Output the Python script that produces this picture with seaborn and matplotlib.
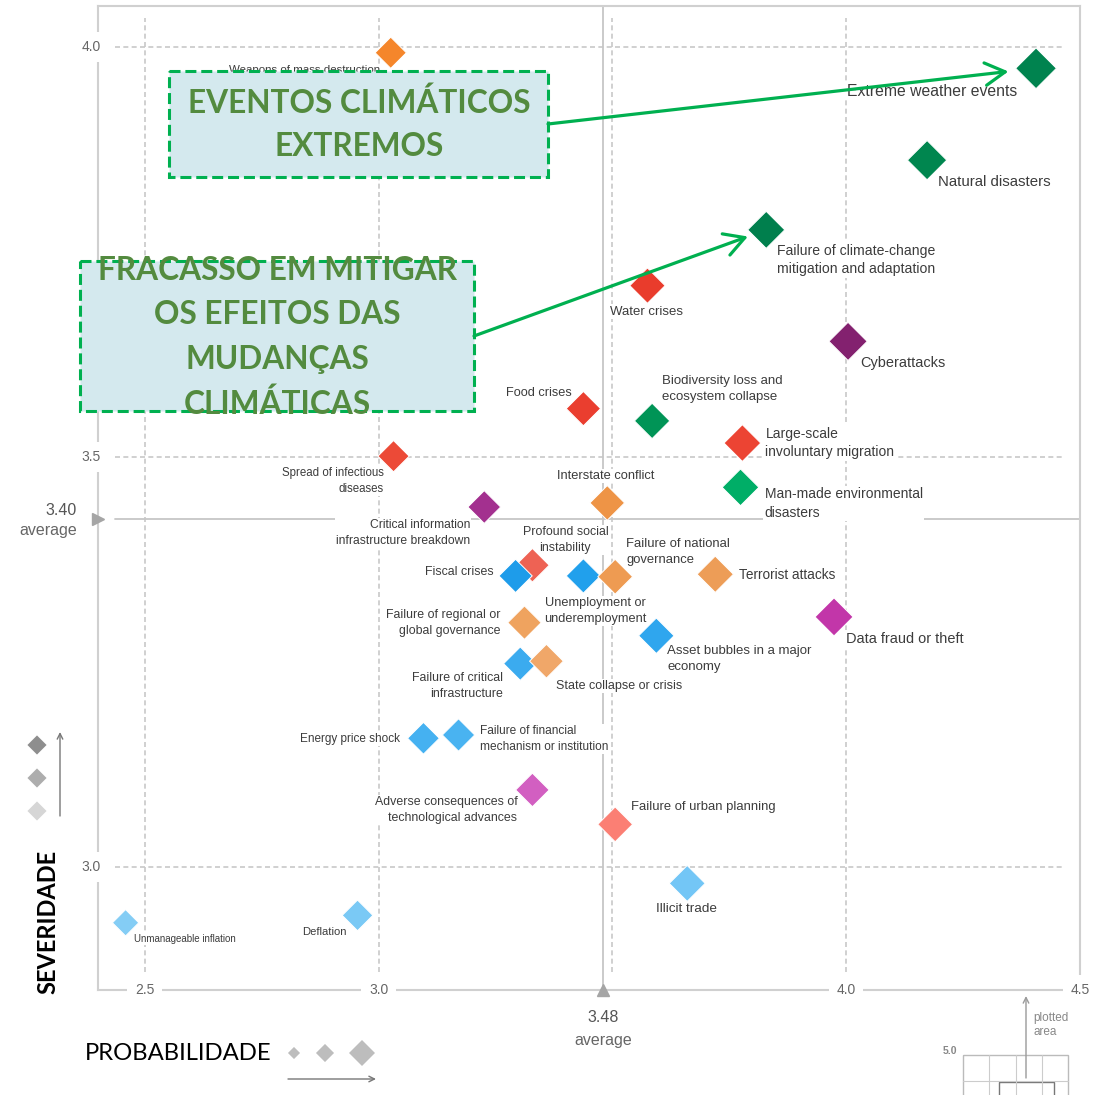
import numpy as np
import pandas as pd
import matplotlib
matplotlib.use("Agg")
import matplotlib.pyplot as plt
import seaborn as sns
from matplotlib.patches import Rectangle

# ---------------- data ----------------
risks = [
    "Weapons of mass destruction",
    "Extreme weather events",
    "Natural disasters",
    "Failure of climate-change\nmitigation and adaptation",
    "Water crises",
    "Cyberattacks",
    "Food crises",
    "Biodiversity loss and\necosystem collapse",
    "Large-scale\ninvoluntary migration",
    "Spread of infectious\ndiseases",
    "Man-made environmental\ndisasters",
    "Interstate conflict",
    "Critical information\ninfrastructure breakdown",
    "Profound social\ninstability",
    "Fiscal crises",
    "Unemployment or\nunderemployment",
    "Failure of national\ngovernance",
    "Terrorist attacks",
    "Data fraud or theft",
    "Failure of regional or\nglobal governance",
    "Asset bubbles in a major\neconomy",
    "Failure of critical\ninfrastructure",
    "State collapse or crisis",
    "Energy price shock",
    "Failure of financial\nmechanism or institution",
    "Adverse consequences of\ntechnological advances",
    "Failure of urban planning",
    "Illicit trade",
    "Deflation",
    "Unmanageable inflation",
]
likelihood = [3.026, 4.406, 4.173, 3.829, 3.575, 4.004, 3.438, 3.585, 3.778, 3.032,
              3.774, 3.489, 3.226, 3.329, 3.293, 3.438, 3.506, 3.720, 3.974, 3.312,
              3.594, 3.303, 3.359, 3.096, 3.171, 3.329, 3.506, 3.660, 2.955, 2.459]
impact = [3.993, 3.974, 3.862, 3.777, 3.709, 3.641, 3.559, 3.544, 3.517, 3.501,
          3.463, 3.444, 3.439, 3.368, 3.355, 3.355, 3.354, 3.357, 3.305, 3.298,
          3.282, 3.248, 3.251, 3.157, 3.161, 3.094, 3.052, 2.980, 2.941, 2.932]

x_ticks = [2.5, 3.0, 4.0, 4.5]
y_ticks = [3.0, 3.5, 4.0]
grid_x = [2.5, 3.0, 3.5, 4.0]
grid_y = [3.0, 3.5, 4.0]
avg_likelihood = 3.48
avg_impact = 3.40
avg_impact_drawn = 3.425   # position of the average line as drawn in the source

# ---------------- styles ----------------
colors = [
    "#F5862B", "#00834F", "#00864F", "#007F4D", "#E93C2C", "#83216F", "#EA3E2F",
    "#009456", "#EC4433", "#EC4A37", "#00AE67", "#EE9446", "#A3308F", "#EE6254",
    "#1E9CEA", "#21A0EC", "#EE9B52", "#ED9D57", "#C236A9", "#EFA35F", "#2FA6EE",
    "#3BABEF", "#F0A769", "#45B1F1", "#49B3F1", "#D25FC1", "#FB7F74", "#73C6F6",
    "#7AC9F5", "#84CDF5",
]
palette = dict(zip(risks, colors))

# label offsets in pixels (dx right, dy down) and horizontal alignment
label_layout = [
    (-11, 17, "right"), (-19, 23, "right"), (11, 22, "left"), (11, 30, "left"),
    (-1, 26, "center"), (12, 22, "left"), (-12, -16, "right"), (10, -32, "left"),
    (23, 0, "left"), (-10, 25, "right"), (24, 16, "left"), (-2, -27, "center"),
    (-14, 26, "right"), (33, -25, "center"), (-22, -4, "right"), (12, 35, "center"),
    (11, -25, "left"), (24, 1, "left"), (12, 22, "left"), (-24, 0, "right"),
    (11, 23, "left"), (-17, 22, "right"), (10, 25, "left"), (-23, 1, "right"),
    (21, 4, "left"), (-15, 20, "right"), (16, -17, "left"), (-1, 26, "center"),
    (-11, 17, "right"), (8, 16, "left"),
]

sns.set_style("white")
plt.rcParams["font.family"] = ["Liberation Sans", "DejaVu Sans"]

df = pd.DataFrame({"risk": risks, "likelihood": likelihood, "impact": impact})

W, H = 1107, 1095
fig = plt.figure(figsize=(W / 100, H / 100), dpi=100)
ax = fig.add_axes([98 / W, 1 - 990 / H, 982 / W, 984 / H])
x0, x1, y0, y1 = 2.40, 4.50, 2.85, 4.05
ax.set_xlim(x0, x1)
ax.set_ylim(y0, y1)
ax.set_xticks([])
ax.set_yticks([])
for sp in ax.spines.values():
    sp.set_color("#D0D0D0")
    sp.set_linewidth(1.5)
    sp.set_visible(True)

# grid
for gx in grid_x:
    ax.axvline(gx, ymin=0.018, ymax=0.988, color="#C8C8C8", lw=1.2,
               ls=(0, (3, 2)), zorder=1)
for gy in grid_y:
    ax.axhline(gy, xmin=0.017, xmax=0.985, color="#C8C8C8", lw=1.2,
               ls=(0, (3, 2)), zorder=1)

# averages
ax.axvline(avg_likelihood, color="#C6C6C6", lw=1.3, zorder=1.5)
ax.axhline(avg_impact_drawn, xmin=0.0173, xmax=1.0, color="#C6C6C6", lw=1.3, zorder=1.5)
ax.plot([avg_likelihood], [y0], marker="^", ms=8, color="#A5A5A5", clip_on=False, zorder=8)
ax.plot([x0], [avg_impact_drawn], marker=">", ms=8, color="#A5A5A5", clip_on=False, zorder=8)

# scatter
sns.scatterplot(data=df, x="likelihood", y="impact", hue="risk", palette=palette,
                size="likelihood", sizes=(180, 430),
                size_norm=(min(likelihood), max(likelihood)),
                marker="D", edgecolor="white", linewidth=0.7, legend=False,
                ax=ax, zorder=4)
ax.set_xlabel("")
ax.set_ylabel("")

# point labels
lo = min(likelihood)
for name, xv, yv, (dx, dy, ha) in zip(risks, likelihood, impact, label_layout):
    fs = 7.0 + (xv - lo) * 2.25
    ax.annotate(name, xy=(xv, yv), xytext=(dx, -dy), textcoords="offset pixels",
                ha=ha, va="center", multialignment=ha, fontsize=fs, color="#3C3C3C",
                linespacing=1.42,
                bbox=dict(boxstyle="square,pad=0.1", fc="white", ec="none"),
                zorder=3, annotation_clip=False)

# tick labels sitting on the spines
tick_bbox = dict(boxstyle="square,pad=0.55", fc="white", ec="none")
for t in x_ticks:
    ax.annotate(f"{t:.1f}", xy=(t, y0), ha="center", va="center", fontsize=10,
                color="#666666", bbox=tick_bbox, zorder=7, annotation_clip=False)
for t in y_ticks:
    ax.annotate(f"{t:.1f}", xy=(x0, t), xytext=(-7, 0), textcoords="offset pixels",
                ha="center", va="center", fontsize=10, color="#666666",
                bbox=tick_bbox, zorder=7, annotation_clip=False)

ax.annotate(f"{avg_likelihood:.2f}", xy=(avg_likelihood, y0), xytext=(0, -28),
            textcoords="offset pixels", ha="center", va="center", fontsize=11.5,
            color="#555555", annotation_clip=False)
ax.annotate("average", xy=(avg_likelihood, y0), xytext=(0, -50),
            textcoords="offset pixels", ha="center", va="center", fontsize=11.5,
            color="#666666", annotation_clip=False)
ax.annotate(f"{avg_impact:.2f}", xy=(x0, avg_impact_drawn), xytext=(-21, 8),
            textcoords="offset pixels", ha="right", va="center", fontsize=11.5,
            color="#555555", annotation_clip=False)
ax.annotate("average", xy=(x0, avg_impact_drawn), xytext=(-21, -12),
            textcoords="offset pixels", ha="right", va="center", fontsize=11.5,
            color="#666666", annotation_clip=False)

# ---------------- overlay (pixel coordinates) ----------------
ov = fig.add_axes([0, 0, 1, 1], zorder=10)
ov.set_xlim(0, W)
ov.set_ylim(H, 0)
ov.axis("off")

box_fc = "#D4E9EE"
box_ec = "#00B050"
txt_green = "#538B3F"
ov.add_patch(Rectangle((169, 71), 379, 106, fc=box_fc, ec=box_ec, lw=2.2,
                       ls=(0, (3.6, 1.6)), zorder=2))
ov.add_patch(Rectangle((80, 261), 394, 150, fc=box_fc, ec=box_ec, lw=2.2,
                       ls=(0, (3.6, 1.6)), zorder=2))
for txt, yy in [("EVENTOS CLIMÁTICOS", 103), ("EXTREMOS", 147)]:
    ov.text(359, yy, txt, ha="center", va="center", fontsize=22.8, fontweight="bold",
            family="Lato", color=txt_green, zorder=3)
for txt, yy in [("FRACASSO EM MITIGAR", 270), ("OS EFEITOS DAS", 315),
                ("MUDANÇAS", 360), ("CLIMÁTICAS", 404)]:
    ov.text(277, yy, txt, ha="center", va="center", fontsize=22.8, fontweight="bold",
            family="Lato", color=txt_green, zorder=3)

arrow_kw = dict(arrowstyle="->,head_length=0.8,head_width=0.45", color="#00B050",
                lw=2.3, mutation_scale=18, shrinkA=0)
i_ext = risks.index("Extreme weather events")
i_clim = risks.index("Failure of climate-change\nmitigation and adaptation")
ov.annotate("", xy=(likelihood[i_ext], impact[i_ext]), xycoords=ax.transData,
            xytext=(548, 124), textcoords="data",
            arrowprops=dict(arrow_kw, shrinkB=20), zorder=4)
ov.annotate("", xy=(likelihood[i_clim], impact[i_clim]), xycoords=ax.transData,
            xytext=(474, 336), textcoords="data",
            arrowprops=dict(arrow_kw, shrinkB=14), zorder=4)

# severity legend (left)
ov.scatter([37, 37, 37], [745, 778, 811], marker="D", s=95,
           c=["#8E8E8E", "#ADADAD", "#D6D6D6"], edgecolors="none")
ov.annotate("", xy=(60, 732), xytext=(60, 816),
            arrowprops=dict(arrowstyle="->", color="#777777", lw=1.0, shrinkA=0, shrinkB=0))
ov.text(48, 922, "SEVERIDADE", rotation=90, ha="center", va="center", fontsize=17,
        fontweight="bold", family="Lato", color="black")

# probability legend (bottom)
ov.text(85, 1053, "PROBABILIDADE", ha="left", va="center", fontsize=17.2,
        family="Lato", color="black")
ov.scatter([294, 325, 362], [1053, 1053, 1053], marker="D", s=[38, 85, 175],
           c="#BDBDBD", edgecolors="none")
ov.annotate("", xy=(376, 1079), xytext=(288, 1079),
            arrowprops=dict(arrowstyle="->", color="#777777", lw=1.0, shrinkA=0, shrinkB=0))

# plotted-area inset (bottom right)
ov.add_patch(Rectangle((963, 1055), 105, 60, fc="none", ec="#BBBBBB", lw=1.0))
for vx in [989, 1016, 1042]:
    ov.plot([vx, vx], [1055, 1100], color="#CCCCCC", lw=0.8)
ov.plot([963, 1068], [1081, 1081], color="#CCCCCC", lw=0.8)
ov.add_patch(Rectangle((999, 1082), 55, 30, fc="none", ec="#777777", lw=1.0))
ov.annotate("", xy=(1026, 996), xytext=(1026, 1078),
            arrowprops=dict(arrowstyle="->", color="#9A9A9A", lw=1.0, shrinkA=0, shrinkB=0))
ov.text(1033, 1025, "plotted\narea", ha="left", va="center", fontsize=8.5,
        color="#888888", linespacing=1.15)
ov.text(950, 1051, "5.0", ha="center", va="center", fontsize=7.5, fontweight="bold",
        color="#888888")

fig.savefig("out.png", dpi=100)
